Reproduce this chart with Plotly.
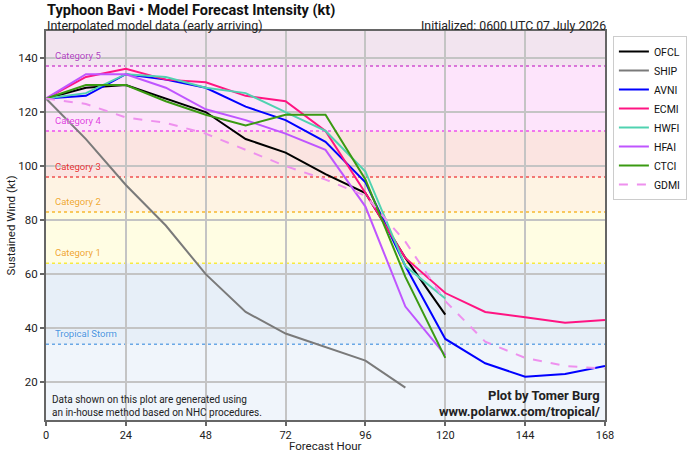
import plotly.graph_objects as go

hours = [0, 12, 24, 36, 48, 60, 72, 84, 96, 108, 120, 132, 144, 156, 168]

OFCL = [125, 129, 130, 125, 120, 110, 105, 97, 90, 66, 45]
SHIP = [125, 110, 93, 78, 60, 46, 38, 33, 28, 18]
AVNI = [125, 126, 134, 132, 129, 122, 117, 109, 94, 63, 36, 27, 22, 23, 26]
ECMI = [125, 133, 136, 132, 131, 126, 124, 113, 90, 66, 53, 46, 44, 42, 43]
HWFI = [125, 127, 134, 133, 129, 127, 120, 113, 98, 63, 51]
HFAI = [125, 134, 134, 129, 121, 117, 112, 106, 85, 48, 30]
CTCI = [125, 130, 130, 124, 119, 115, 119, 119, 95, 59, 29]
GDMI = [125, 123, 118, 116, 112, 106, 100, 95, 89, 72, 50, 35, 29, 26, 25]

models = ["OFCL", "SHIP", "AVNI", "ECMI", "HWFI", "HFAI", "CTCI", "GDMI"]
series = [OFCL, SHIP, AVNI, ECMI, HWFI, HFAI, CTCI, GDMI]
colors = ["#000000", "#7a7a7a", "#0000ff", "#ff1482", "#50d2b0", "#bf55ff", "#3a9a12", "#ee90ee"]
dashes = ["solid"] * 7 + ["dash"]

# Saffir-Simpson categories
cat_names = ["Tropical Storm", "Category 1", "Category 2", "Category 3", "Category 4", "Category 5"]
cat_thresholds = [34, 64, 83, 96, 113, 137]
band_edges = [6, 34, 64, 83, 96, 113, 137, 150]
band_colors = ["#f0f5fb", "#e7eff8", "#fffde3", "#fef3e3", "#fbe4e1", "#fde4fb", "#f2e4ef"]
line_colors = ["#6aa8e6", "#f7ea40", "#f8b830", "#f05050", "#ee50ee", "#d050d0"]
label_colors = ["#4a94e0", "#f0a830", "#f0a830", "#e83030", "#e040e0", "#b040c0"]

x_ticks = [0, 24, 48, 72, 96, 120, 144, 168]
y_ticks = [20, 40, 60, 80, 100, 120, 140]

note_text = "Data shown on this plot are generated using<br>an in-house method based on NHC procedures."

fig = go.Figure()

shapes = []
for i, col in enumerate(band_colors):
    shapes.append(dict(type="rect", xref="x", yref="y", x0=0, x1=168,
                       y0=band_edges[i], y1=band_edges[i + 1],
                       fillcolor=col, line=dict(width=0), layer="below"))
for thr, lc in zip(cat_thresholds, line_colors):
    shapes.append(dict(type="line", xref="x", yref="y", x0=0, x1=168, y0=thr, y1=thr,
                       line=dict(color=lc, width=1.5, dash="dot"), layer="below"))

for name, vals, c, d in zip(models, series, colors, dashes):
    fig.add_trace(go.Scatter(x=hours[:len(vals)], y=vals, mode="lines", name=name,
                             line=dict(color=c, width=2, dash=d)))

FONT = "Roboto"
ann = []
for name, thr, lc in zip(cat_names, cat_thresholds, label_colors):
    ann.append(dict(x=2.0, y=thr + 4, xref="x", yref="y", text=name, showarrow=False,
                    xanchor="left", yanchor="middle",
                    font=dict(family=FONT, size=9.5, color=lc, shadow="0px 0px 2px white")))

def py(Y):
    return (420 - Y) / 389.0

def px(X):
    return (X - 46) / 566.0

ann += [
    dict(x=px(45), y=py(11), xref="paper", yref="paper", xanchor="left", yanchor="middle",
         text="<b>Typhoon Bavi • Model Forecast Intensity (kt)</b>", showarrow=False,
         font=dict(family=FONT, size=14.5, color="#111")),
    dict(x=px(45), y=py(26), xref="paper", yref="paper", xanchor="left", yanchor="middle",
         text="Interpolated model data (early arriving)", showarrow=False,
         font=dict(family=FONT, size=12.5, color="#222")),
    dict(x=px(615), y=py(26), xref="paper", yref="paper", xanchor="right", yanchor="middle",
         text="Initialized: 0600 UTC 07 July 2026", showarrow=False,
         font=dict(family=FONT, size=12.3, color="#222")),
    dict(x=px(50), y=py(405.5), xref="paper", yref="paper", xanchor="left", yanchor="middle",
         text=note_text, showarrow=False, align="left",
         font=dict(family=FONT, size=10, color="#222")),
    dict(x=px(609), y=py(395), xref="paper", yref="paper", xanchor="right", yanchor="middle",
         text="<b>Plot by Tomer Burg</b>", showarrow=False,
         font=dict(family=FONT, size=13, color="#222")),
    dict(x=px(609), y=py(411), xref="paper", yref="paper", xanchor="right", yanchor="middle",
         text="<b>www.polarwx.com/tropical/</b>", showarrow=False,
         font=dict(family=FONT, size=13, color="#222")),
    dict(x=px(11), y=py(225), xref="paper", yref="paper", xanchor="center", yanchor="middle",
         text="Sustained Wind (kt)", showarrow=False, textangle=-90,
         font=dict(family=FONT, size=11.5, color="#222")),
    dict(x=0.5, y=py(446), xref="paper", yref="paper", xanchor="center", yanchor="middle",
         text="Forecast Hour", showarrow=False,
         font=dict(family=FONT, size=11.5, color="#222")),
]

fig.update_layout(
    width=699, height=457,
    margin=dict(l=46, r=87, t=31, b=37),
    paper_bgcolor="white", plot_bgcolor="white",
    shapes=shapes, annotations=ann,
    font=dict(family=FONT, size=11, color="#222"),
    legend=dict(x=px(620), y=py(36), xref="paper", yref="paper", xanchor="left", yanchor="top",
                bgcolor="white", bordercolor="#cccccc", borderwidth=1,
                font=dict(family=FONT, size=10.5, color="#111"), tracegroupgap=0),
    showlegend=True,
)
fig.update_xaxes(range=[0, 168], tickvals=x_ticks, ticks="outside", ticklen=4, tickwidth=1.5,
                 tickcolor="#666", showgrid=True, gridcolor="#c4c4c4", gridwidth=1.5,
                 showline=True, linecolor="#666", linewidth=2, mirror=True, zeroline=False,
                 tickfont=dict(family=FONT, size=11, color="#222"))
fig.update_yaxes(range=[6, 150], tickvals=y_ticks, ticks="outside", ticklen=4, tickwidth=1.5,
                 tickcolor="#666", showgrid=True, gridcolor="#c4c4c4", gridwidth=1.5,
                 showline=True, linecolor="#666", linewidth=2, mirror=True, zeroline=False,
                 tickfont=dict(family=FONT, size=11.5, color="#222"))

fig.write_html("out.html")
